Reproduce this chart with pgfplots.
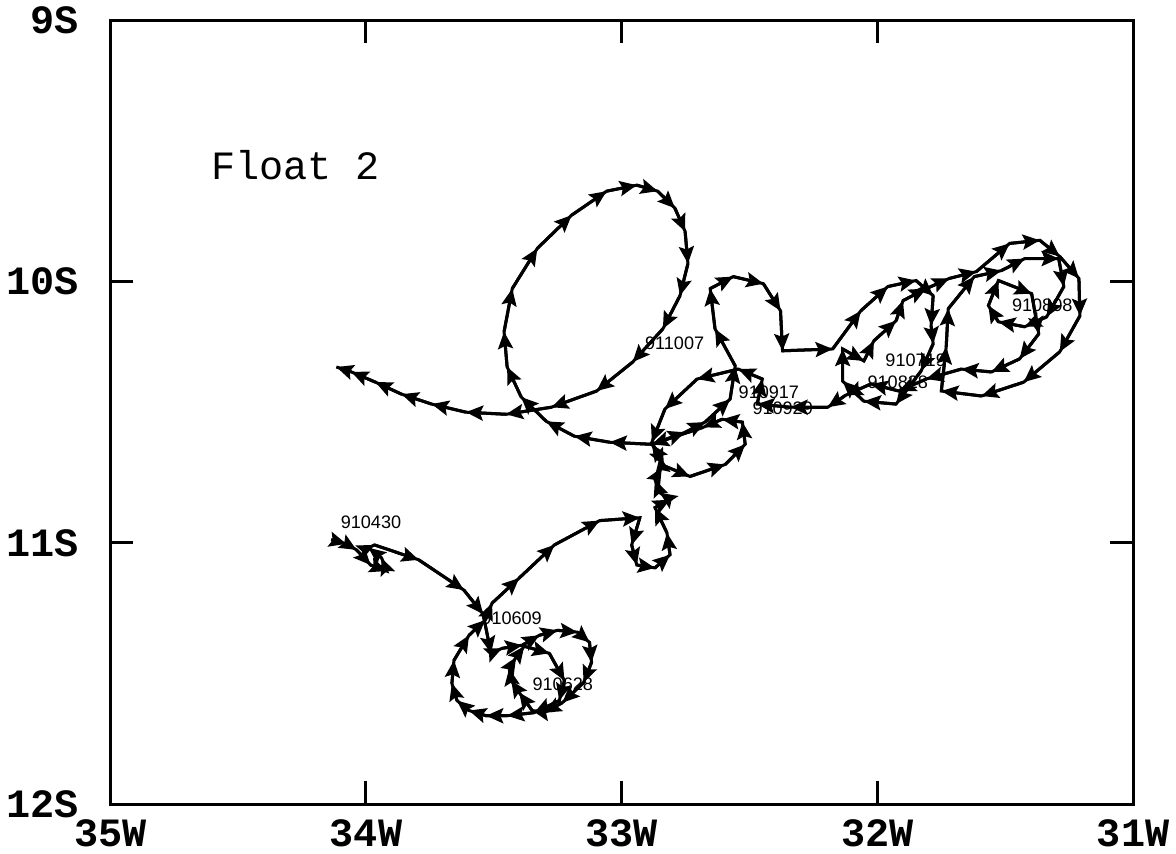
\documentclass[border=0pt]{standalone}
\usepackage{fontspec}
\setmainfont{Liberation Sans}
\newfontfamily\monofont{Liberation Mono}
\usepackage{pgfplots}
\usepackage{pgfplotstable}
\pgfplotsset{compat=1.18}
\usetikzlibrary{arrows.meta,decorations.pathreplacing}

\pgfplotstableread{
x y
-34.136 -10.988
-34.077 -11.004
-34.037 -11.027
-33.982 -11.085
-33.919 -11.108
-33.939 -11.058
-33.990 -11.019
-33.967 -11.008
-33.794 -11.065
-33.617 -11.181
-33.542 -11.273
-33.511 -11.423
-33.468 -11.404
-33.389 -11.392
-33.322 -11.354
-33.251 -11.335
-33.173 -11.342
-33.126 -11.381
-33.118 -11.458
-33.149 -11.535
-33.232 -11.612
-33.303 -11.650
-33.350 -11.642
-33.401 -11.573
-33.432 -11.527
-33.440 -11.481
-33.413 -11.438
-33.381 -11.396
-33.283 -11.423
-33.224 -11.527
-33.244 -11.604
-33.342 -11.650
-33.448 -11.662
-33.530 -11.662
-33.597 -11.642
-33.644 -11.604
-33.664 -11.538
-33.656 -11.450
-33.597 -11.354
-33.534 -11.296
-33.507 -11.231
-33.401 -11.135
-33.263 -11.008
-33.086 -10.915
-32.929 -10.904
-32.961 -11.008
-32.941 -11.085
-32.870 -11.096
-32.811 -11.046
-32.823 -10.962
-32.870 -10.865
-32.811 -10.835
-32.851 -10.808
-32.870 -10.758
-32.843 -10.712
-32.851 -10.669
-32.882 -10.623
-32.752 -10.577
-32.674 -10.538
-32.576 -10.450
-32.556 -10.323
-32.635 -10.181
-32.654 -10.027
-32.564 -9.981
-32.446 -10.008
-32.379 -10.112
-32.371 -10.265
-32.175 -10.258
-32.065 -10.112
-31.959 -10.019
-31.849 -9.996
-31.782 -10.054
-31.790 -10.169
-31.782 -10.238
-31.829 -10.342
-31.927 -10.469
-32.053 -10.458
-32.136 -10.381
-32.136 -10.258
-32.053 -10.304
-32.014 -10.227
-31.927 -10.150
-31.900 -10.073
-31.809 -10.027
-31.719 -9.988
-31.613 -9.962
-31.483 -9.854
-31.365 -9.842
-31.287 -9.904
-31.212 -9.988
-31.208 -10.131
-31.287 -10.269
-31.428 -10.385
-31.593 -10.438
-31.750 -10.419
-31.731 -10.250
-31.723 -10.104
-31.621 -9.981
-31.515 -9.958
-31.424 -9.912
-31.291 -9.912
-31.271 -10.019
-31.338 -10.135
-31.424 -10.173
-31.527 -10.154
-31.566 -10.092
-31.527 -9.996
-31.397 -10.046
-31.369 -10.200
-31.444 -10.296
-31.554 -10.346
-31.672 -10.335
-31.809 -10.373
-31.916 -10.419
-32.026 -10.392
-32.124 -10.435
-32.194 -10.481
-32.340 -10.481
-32.470 -10.469
-32.450 -10.373
-32.544 -10.335
-32.705 -10.373
-32.831 -10.488
-32.882 -10.615
-32.835 -10.705
-32.733 -10.746
-32.595 -10.700
-32.517 -10.623
-32.528 -10.538
-32.607 -10.527
-32.682 -10.558
-32.882 -10.623
-33.047 -10.615
-33.185 -10.592
-33.295 -10.535
-33.393 -10.442
-33.448 -10.327
-33.460 -10.192
-33.428 -10.027
-33.330 -9.873
-33.196 -9.746
-33.059 -9.654
-32.941 -9.631
-32.859 -9.654
-32.792 -9.719
-32.752 -9.808
-32.741 -9.931
-32.772 -10.054
-32.839 -10.181
-32.957 -10.308
-33.098 -10.419
-33.275 -10.481
-33.452 -10.508
-33.609 -10.500
-33.743 -10.469
-33.861 -10.431
-33.963 -10.385
-34.057 -10.346
-34.116 -10.327
}\track

\begin{document}
\begin{tikzpicture}
\begin{axis}[
  width=509pt, height=390pt, scale only axis,
  xmin=-35, xmax=-31, ymin=-12, ymax=-9,
  xtick={-35,-34,-33,-32,-31}, xticklabels={35W,34W,33W,32W,31W},
  ytick={-12,-11,-10,-9}, yticklabels={12S,11S,10S,9S},
  tick align=inside, major tick length=11.5pt,
  axis line style={line width=1.5pt},
  tick style={line width=1.5pt, black},
  ticklabel style={font=\monofont\bfseries\fontsize{20}{24}\selectfont},
  xticklabel style={yshift=-4pt},
  yticklabel style={xshift=-12pt},
]
\addplot[black, line width=1.5pt, postaction={decorate},
  decoration={show path construction,
    lineto code={\draw[black, line width=1.5pt, -{Stealth[length=8.5pt,width=7.5pt,inset=1.5pt]}] (\tikzinputsegmentfirst) -- (\tikzinputsegmentlast);}}]
  table[x=x, y=y] {\track};

\node[anchor=west, inner sep=0, font=\monofont\fontsize{20}{24}\selectfont] at (axis cs:-34.607,-9.554) {Float 2};
\begin{scope}[every node/.style={anchor=west, inner sep=0, font=\fontsize{9}{10}\selectfont}]
\node at (axis cs:-34.10,-10.92) {910430};
\node at (axis cs:-33.55,-11.29) {910609};
\node at (axis cs:-33.35,-11.54) {910628};
\node at (axis cs:-31.97,-10.30) {910719};
\node at (axis cs:-31.475,-10.09) {910808};
\node at (axis cs:-32.04,-10.385) {910828};
\node at (axis cs:-32.544,-10.425) {910917};
\node at (axis cs:-32.49,-10.485) {910929};
\node at (axis cs:-32.91,-10.235) {911007};
\end{scope}
\end{axis}
\end{tikzpicture}
\end{document}
